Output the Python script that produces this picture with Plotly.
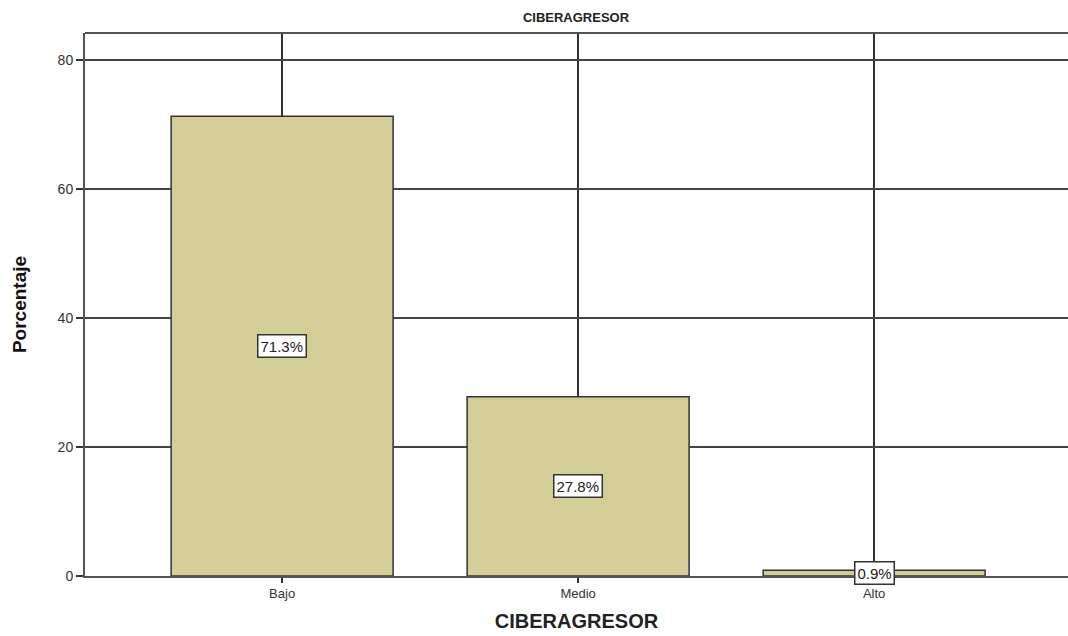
import plotly.graph_objects as go

categories = ["Bajo", "Medio", "Alto"]
values = [71.3, 27.8, 0.9]
labels = ["71.3%", "27.8%", "0.9%"]
y_ticks = [0, 20, 40, 60, 80]

fig = go.Figure()
fig.add_trace(go.Bar(
    x=categories, y=values, width=0.75,
    marker=dict(color="#D3CE97", line=dict(color="#333333", width=1.5)),
    hoverinfo="skip",
))

for c, v, t in zip(categories, values, labels):
    fig.add_annotation(
        x=c, y=v / 2, text=t, showarrow=False,
        font=dict(family="Liberation Sans, Arial", size=15, color="#222222"),
        bgcolor="white", bordercolor="#333333", borderwidth=1.5, borderpad=2,
    )

fig.update_layout(
    width=1068, height=636,
    margin=dict(l=85, r=0, t=33, b=60),
    paper_bgcolor="white", plot_bgcolor="white",
    showlegend=False,
    title=dict(text="<b>CIBERAGRESOR</b>", x=0.5393, xanchor="center", y=0.973, yanchor="middle",
               font=dict(family="Liberation Sans Narrow, Liberation Sans, Arial", size=13, color="#222222")),
    font=dict(family="Liberation Sans, Arial", color="#333333"),
)
fig.update_xaxes(
    range=[-0.666, 2.655],
    showgrid=True, gridcolor="#333333", gridwidth=1.5,
    showline=True, linecolor="#555555", linewidth=1.5,
    ticks="outside", ticklen=5, tickcolor="#333333", tickwidth=1.5,
    tickfont=dict(size=13, color="#333333"),
    title=dict(text="<b>CIBERAGRESOR</b>", standoff=14,
               font=dict(family="Liberation Sans, Arial", size=20, color="#222222")),
    zeroline=False, mirror=False,
)
fig.update_yaxes(
    range=[0, 84.2], tickvals=y_ticks,
    showgrid=True, gridcolor="#444444", gridwidth=1.5,
    showline=True, linecolor="#555555", linewidth=2,
    ticks="outside", ticklen=7, tickcolor="#333333", tickwidth=1.5,
    tickfont=dict(size=14, color="#333333"),
    title=dict(text="<b>Porcentaje</b>", standoff=26,
               font=dict(family="Liberation Sans Narrow, Liberation Sans, Arial", size=19, color="#111111")),
    zeroline=False,
)
fig.add_shape(type="line", xref="paper", yref="paper", x0=0, x1=1, y0=1, y1=1,
              line=dict(color="#555555", width=2))

fig.write_html("out.html")
